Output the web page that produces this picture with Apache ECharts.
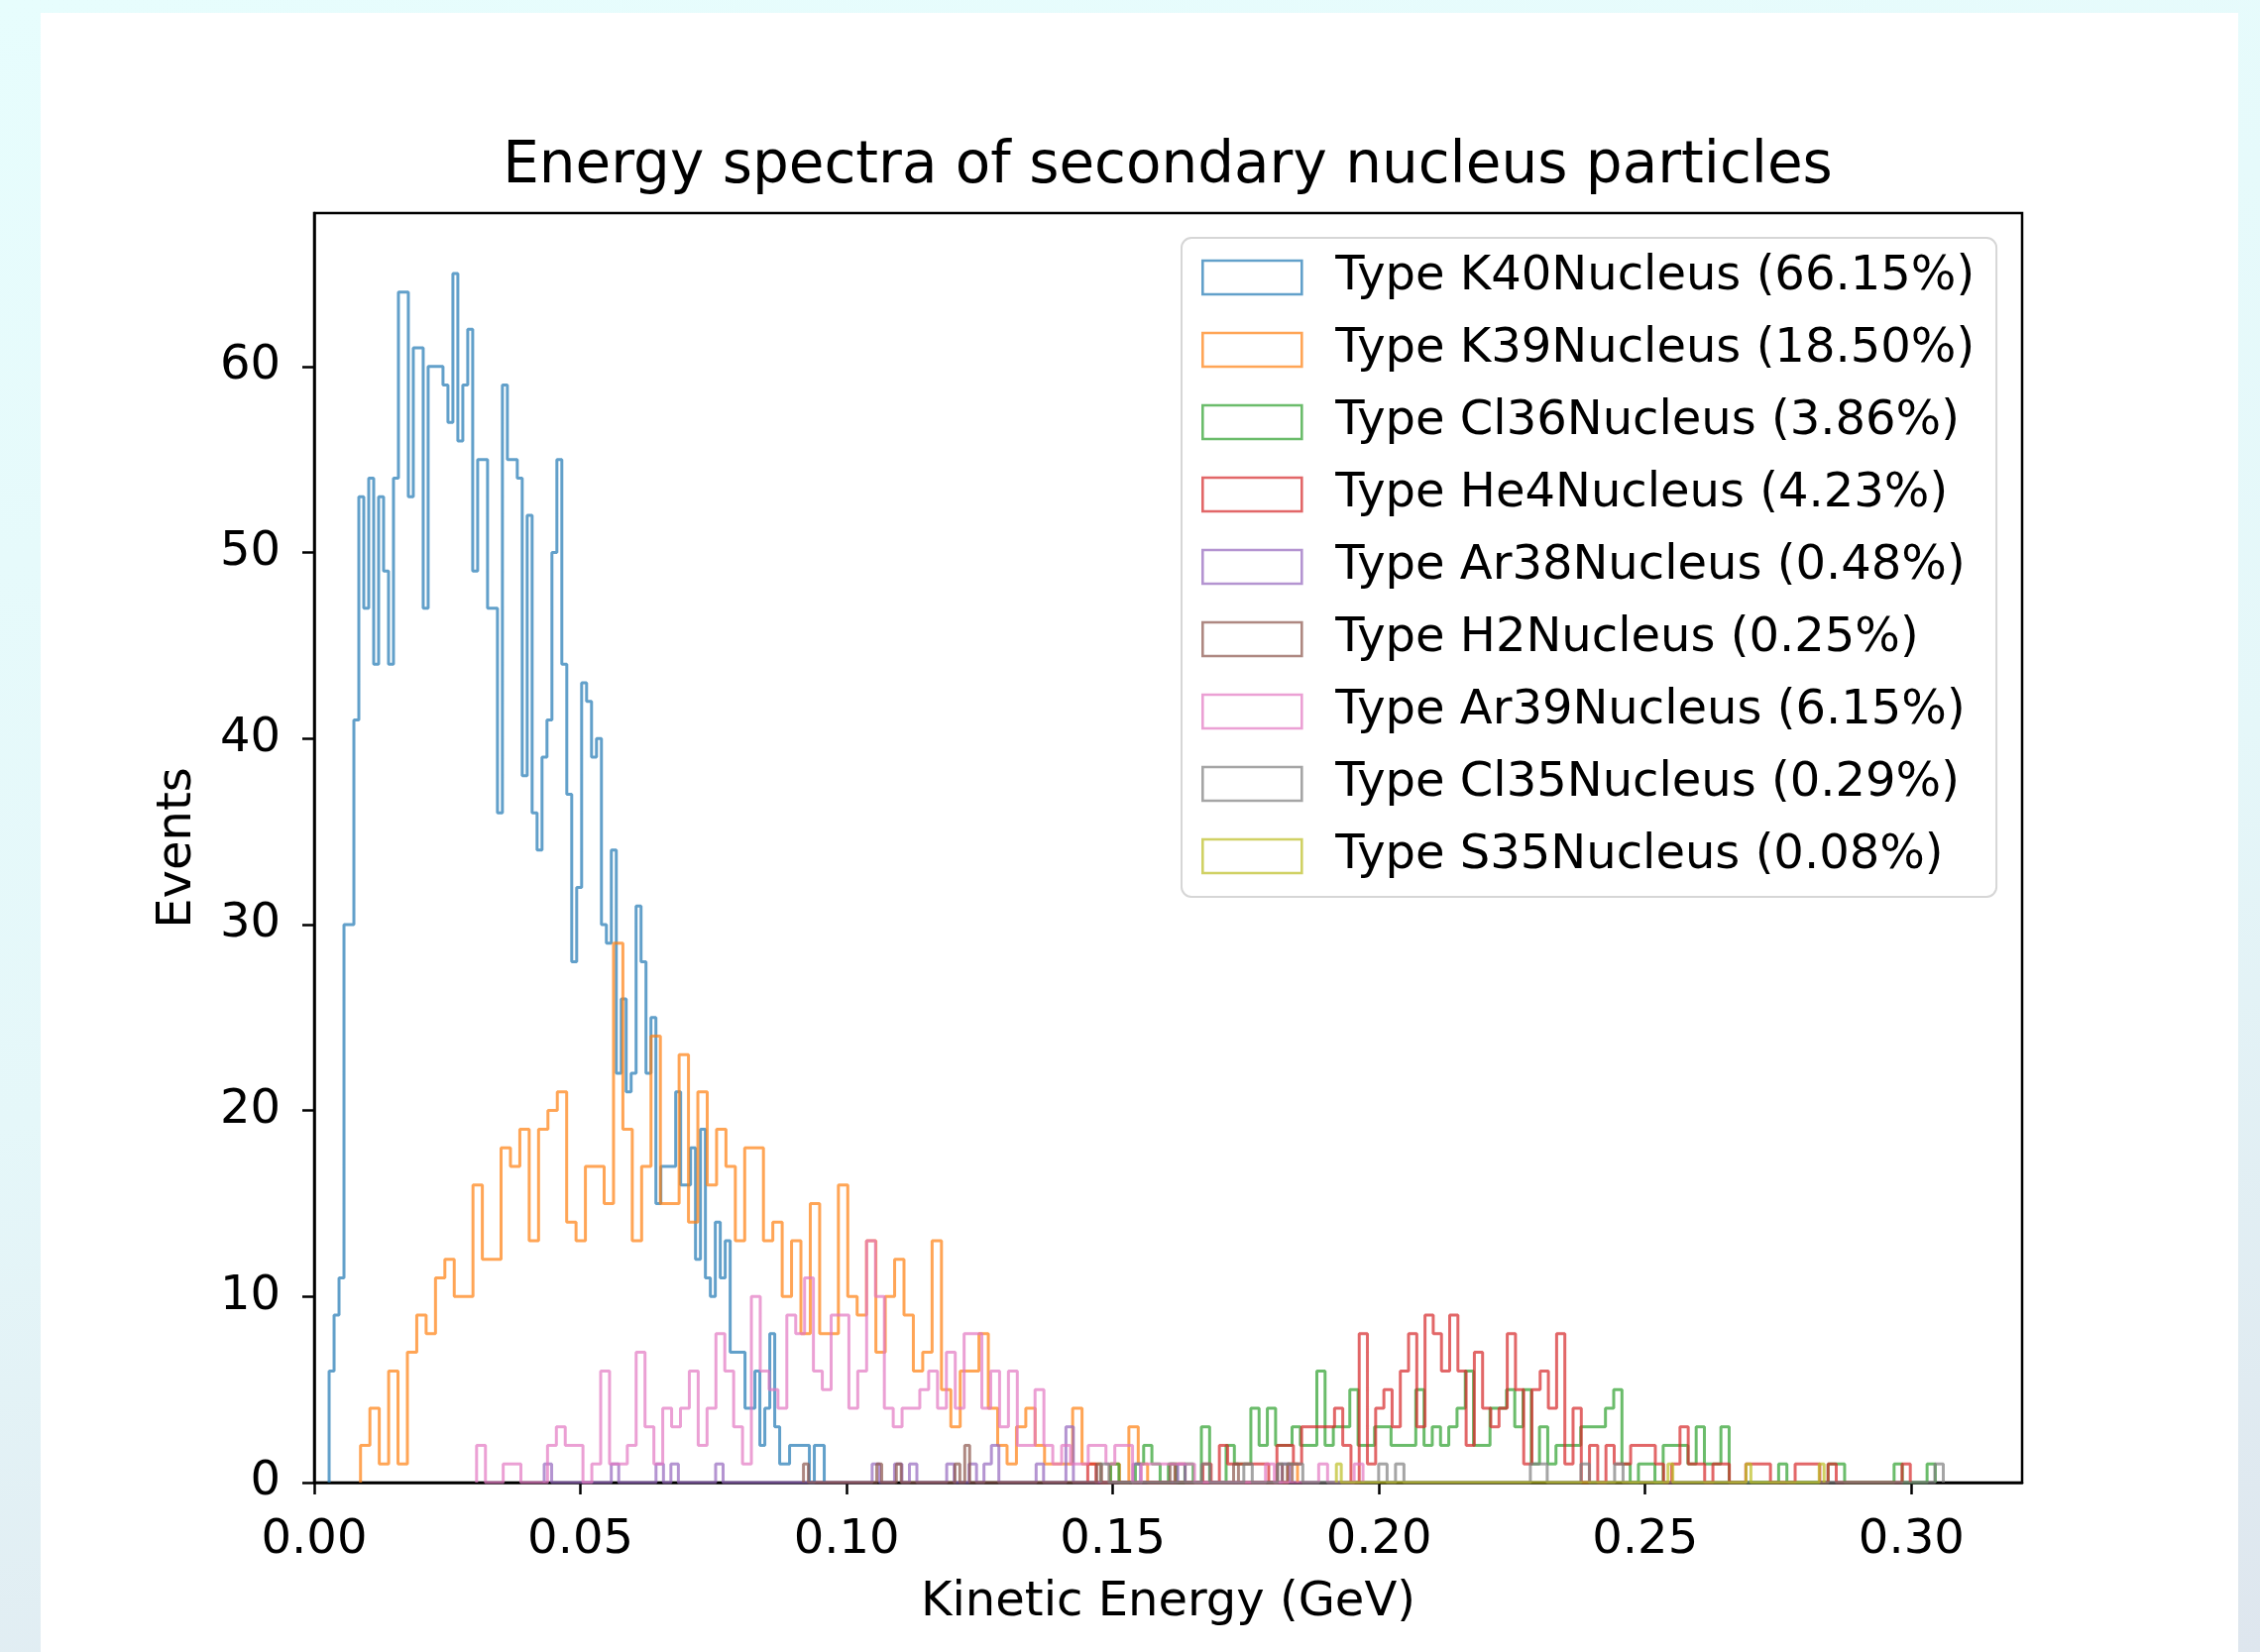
<!DOCTYPE html>
<html>
<head>
<meta charset="utf-8">
<script src="https://cdn.jsdelivr.net/npm/echarts@6/dist/echarts.min.js"></script>
<style>
html, body { margin: 0; padding: 0; width: 2280px; height: 1667px; overflow: hidden;
  background: linear-gradient(170deg, #e7fdfd 0%, #e5f7f9 55%, #dee6ee 100%); }
#card { position: absolute; left: 41px; top: 13px; width: 2217px; height: 1654px; background: #fff; }
#chart { position: absolute; left: 0; top: 0; width: 2280px; height: 1667px; }
</style>
</head>
<body>
<div id="card"></div>
<div id="chart"></div>
<script>
var names = [
    'Type K40Nucleus (66.15%)', 'Type K39Nucleus (18.50%)', 'Type Cl36Nucleus (3.86%)',
    'Type He4Nucleus (4.23%)', 'Type Ar38Nucleus (0.48%)', 'Type H2Nucleus (0.25%)',
    'Type Ar39Nucleus (6.15%)', 'Type Cl35Nucleus (0.29%)', 'Type S35Nucleus (0.08%)'
];
var colors = ['#1f77b4', '#ff7f0e', '#2ca02c', '#d62728', '#9467bd', '#8c564b', '#e377c2', '#7f7f7f', '#bcbd22'];

// [low edge, high edge] of each histogram (GeV), 100 bins each
var ranges = [
    [0.0028, 0.0958], [0.0087, 0.1847], [0.1496, 0.3045], [0.1453, 0.2998], [0.0432, 0.1832],
    [0.0919, 0.1837], [0.0305, 0.1970], [0.1477, 0.3060], [0.1920, 0.2836]
];

var k40 = [6,9,11,30,30,41,53,47,54,44, 53,49,44,54,64,64,53,61,61,47, 60,60,60,59,57,65,56,59,62,49,
    55,55,47,47,36,59,55,55,54,38, 52,36,34,39,41,50,55,44,37,28, 32,43,42,39,40,30,29,34,22,26,
    21,22,31,28,22,25,15,17,17,17, 21,16,16,18,12,19,11,10,14,11, 13,7,7,7,4,4,6,2,4,8,
    3,1,1,2,2,2,2,0,2,2];
var k39 = [2,4,1,6,1,7,9,8,11,12, 10,10,16,12,12,18,17,19,13,19, 20,21,14,13,17,17,15,29,19,13,
    17,24,15,15,23,14,21,16,19,17, 13,18,18,13,14,10,13,8,15,8, 8,16,10,9,13,7,10,12,9,6,
    7,13,5,3,6,6,8,4,2,1, 3,4,2,1,1,1,4,1,1,0, 1,0,3,1,0,0,0,1,0,0, 0,0,0,0,0,0,0,0,0,1];
var cl36 = [1,0,0,1,2,1,0,1,0,1, 0,3,0,0,2,1,1,4,2,4, 2,2,3,2,2,6,2,3,3,5, 2,2,3,3,2,2,2,5,2,3,
    2,3,4,6,2,2,4,4,5,3, 5,1,3,1,2,2,2,3,3,3, 4,5,1,0,1,1,0,2,2,2, 1,3,1,1,3,0,0,0,0,0,
    0,1,0,0,0,0,0,1,1,0, 0,0,0,0,0,1,0,0,0,1];
var he4 = [1,0,0,0,0,0,0,0,0,0, 0,0,0,0,1,0,2,1,1,1, 1,1,0,2,2,1,3,3,3,3, 4,2,0,8,1,4,5,3,6,8,
    3,9,8,6,9,6,2,7,4,3, 4,8,5,1,5,6,4,8,1,4, 0,2,0,2,1,1,2,2,2,1, 0,1,3,1,1,0,1,1,0,0,
    1,1,1,0,0,0,1,1,1,0, 1,0,0,0,0,0,0,0,0,1];
var ar39 = [2,0,0,1,1,0,0,0,2,3, 2,2,0,1,6,1,1,2,7,3, 1,4,3,4,6,2,4,8,6,3, 1,10,6,5,4,9,8,11,6,5,
    9,9,4,6,13,10,4,3,4,4, 5,6,4,7,4,8,8,4,6,3, 6,2,2,5,2,1,2,1,1,2, 2,1,2,2,0,1,1,1,1,1,
    1,0,0,0,0,0,0,0,0,1, 0,0,0,0,0,1,0,0,0,1];

// sparse ones: [bin, count], other bins are empty
var ar38Bins = [[0,1],[9,1],[15,1],[17,1],[23,1],[44,1],[47,1],[49,1],[54,1],[57,1],[59,1],[60,2],[66,1],[70,3],[79,1],[85,1],[99,1]];
var h2Bins = [[0,1],[15,1],[19,1],[31,1],[33,2],[60,1],[75,1],[88,1],[97,1],[99,1]];
var cl35Bins = [[0,1],[12,1],[17,1],[21,1],[22,1],[23,1],[33,1],[35,1],[51,1],[52,1],[57,1],[61,1],[99,1]];
var s35Bins = [[0,1],[68,1],[84,1],[99,1]];

var xTicks = [0, 0.05, 0.10, 0.15, 0.20, 0.25, 0.30];
var yTicks = [0, 10, 20, 30, 40, 50, 60];

var font = 'DejaVu Sans';
var chart = echarts.init(document.getElementById('chart'));

function expand(pairs) {
    var out = [];
    for (var i = 0; i < 100; i++) out.push(0);
    pairs.forEach(function (p) { out[p[0]] = p[1]; });
    return out;
}

// outline of a step histogram, like histtype='step'
function stepPoints(range, counts) {
    var lo = range[0], hi = range[1];
    var w = (hi - lo) / counts.length;
    var pts = [[lo, 0]];
    counts.forEach(function (c, i) {
        pts.push([lo + i * w, c]);
    });
    pts.push([hi, counts[counts.length - 1]]);
    pts.push([hi, 0]);
    return pts;
}

var allCounts = [k40, k39, cl36, he4, expand(ar38Bins), expand(h2Bins), ar39, expand(cl35Bins), expand(s35Bins)];

var series = allCounts.map(function (counts, i) {
    return {
        name: names[i],
        type: 'line',
        step: 'end',
        symbol: 'none',
        showSymbol: false,
        data: stepPoints(ranges[i], counts),
        lineStyle: { color: colors[i], width: 3, opacity: 0.7 },
        itemStyle: { color: colors[i] },
        z: 2 + i
    };
});

var option = {
    animation: false,
    title: {
        text: 'Energy spectra of secondary nucleus particles',
        left: 1178, top: 140, textAlign: 'center', padding: 0,
        textStyle: { fontFamily: font, fontSize: 58, fontWeight: 'normal', color: '#000' }
    },
    legend: {
        orient: 'vertical',
        left: 1192, top: 240,
        padding: [16, 22, 17, 20],
        itemWidth: 100, itemHeight: 34, itemGap: 25,
        icon: 'rect',
        backgroundColor: 'rgba(255,255,255,0.8)',
        borderColor: '#d6d6d6', borderWidth: 2, borderRadius: 10,
        textStyle: { fontFamily: font, fontSize: 48, color: '#000', lineHeight: 48, padding: [0, 0, 0, 29] },
        data: names.map(function (n, i) {
            return { name: n, itemStyle: { color: 'rgba(255,255,255,0)', borderColor: colors[i], borderWidth: 2.6, opacity: 0.7 } };
        })
    },
    grid: {
        left: 317, right: 240, top: 215, bottom: 171,
        show: true, borderColor: '#000', borderWidth: 2.5,
        outerBoundsMode: 'none'
    },
    xAxis: {
        type: 'value', min: 0, max: 0.3208,
        name: 'Kinetic Energy (GeV)', nameLocation: 'middle', nameGap: 98,
        nameTextStyle: { fontFamily: font, fontSize: 48, color: '#000' },
        axisLine: { show: true, lineStyle: { color: '#000', width: 2.5 } },
        axisTick: { show: true, length: 12, lineStyle: { color: '#000', width: 2.5 }, customValues: xTicks },
        axisLabel: {
            customValues: xTicks, margin: 35, fontFamily: font, fontSize: 48, color: '#000',
            formatter: function (v) { return v.toFixed(2); }
        },
        splitLine: { show: false }
    },
    yAxis: {
        type: 'value', min: 0, max: 68.25,
        name: 'Events', nameLocation: 'middle', nameGap: 113,
        nameTextStyle: { fontFamily: font, fontSize: 48, color: '#000' },
        axisLine: { show: true, lineStyle: { color: '#000', width: 2.5 } },
        axisTick: { show: true, length: 12, lineStyle: { color: '#000', width: 2.5 }, customValues: yTicks },
        axisLabel: { customValues: yTicks, margin: 34, fontFamily: font, fontSize: 48, color: '#000' },
        splitLine: { show: false }
    },
    series: series
};

chart.setOption(option);
</script>
</body>
</html>
